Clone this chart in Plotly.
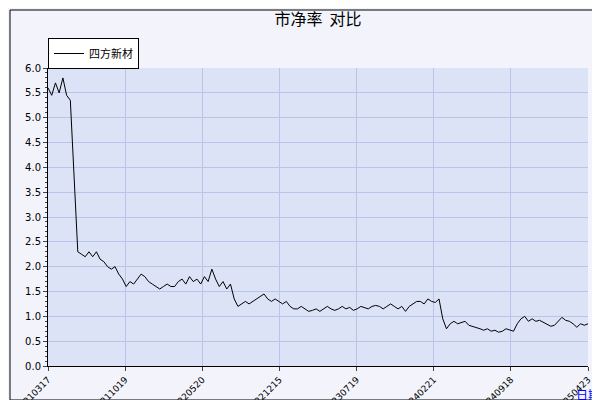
import plotly.graph_objects as go

tick_labels = ["20210317","20211019","20220520","20221215","20230719","20240221","20240918","20250423"]
pb_values = [5.6,5.45,5.7,5.5,5.8,5.45,5.35,3.7,2.3,2.25,2.2,2.3,2.2,2.3,2.15,2.1,2.0,1.95,2.0,1.85,1.75,1.6,1.7,1.65,1.75,1.85,1.8,1.7,1.65,1.6,1.55,1.6,1.65,1.6,1.6,1.7,1.75,1.65,1.8,1.7,1.75,1.65,1.8,1.7,1.95,1.75,1.6,1.7,1.55,1.65,1.35,1.2,1.25,1.3,1.25,1.3,1.35,1.4,1.45,1.35,1.3,1.35,1.3,1.25,1.3,1.2,1.15,1.15,1.2,1.15,1.1,1.12,1.15,1.1,1.15,1.2,1.15,1.12,1.15,1.2,1.15,1.18,1.12,1.15,1.2,1.18,1.15,1.2,1.22,1.2,1.15,1.2,1.25,1.2,1.15,1.2,1.1,1.2,1.25,1.3,1.3,1.25,1.35,1.3,1.28,1.35,0.95,0.75,0.85,0.9,0.85,0.88,0.9,0.82,0.8,0.78,0.75,0.72,0.75,0.7,0.72,0.68,0.7,0.75,0.72,0.7,0.85,0.95,1.0,0.9,0.95,0.9,0.92,0.88,0.85,0.8,0.82,0.9,0.98,0.92,0.9,0.85,0.78,0.85,0.82,0.85]
N = len(pb_values)
xs = list(range(N))
tickvals = [(N-1)*k/7 for k in range(8)]

fig = go.Figure(go.Scatter(x=xs, y=pb_values, mode="lines", line=dict(color="black", width=1), name="四方新材"))
fig.update_layout(
    width=600, height=400, margin=dict(l=40, r=20, t=60, b=42, autoexpand=False),
    paper_bgcolor="#f3f4fb", plot_bgcolor="#dde3f7",
    font=dict(family="DejaVu Sans", size=10, color="black"),
    title=dict(text="市净率  对比", x=0.5, xref="paper", y=0.985, yanchor="top", xanchor="center", font=dict(size=16, family="Noto Sans CJK SC")),
    showlegend=True,
    legend=dict(x=0.0, y=(358-30)/298, xanchor="left", yanchor="top", bgcolor="white", bordercolor="black", borderwidth=1, font=dict(size=11, family="Noto Sans CJK SC")),
    shapes=[
        dict(type="rect", xref="paper", yref="paper", x0=(2-40)/540, x1=(590-40)/540, y0=(358-392)/298, y1=(358-2)/298, line=dict(color="black", width=1)),
    ],
    annotations=[dict(text="日期", xref="paper", yref="paper", x=1.0, y=-0.06, xanchor="center", yanchor="top", showarrow=False, font=dict(color="blue", size=12, family="Noto Sans CJK SC"))],
)
fig.update_xaxes(range=[0, N-1], tickvals=tickvals, ticktext=tick_labels, tickangle=-45, automargin=False, gridcolor="#b8c4e8", showline=True, linecolor="black", ticks="outside", ticklen=4, zeroline=False, tickfont=dict(size=9))
fig.update_yaxes(range=[0, 6], dtick=0.5, tickformat=".1f", automargin=False, gridcolor="#b8c4e8", showline=True, linecolor="black", ticks="outside", ticklen=4, minor=dict(dtick=0.1, ticks="outside", ticklen=2), zeroline=False)
fig.write_html("out.html")
